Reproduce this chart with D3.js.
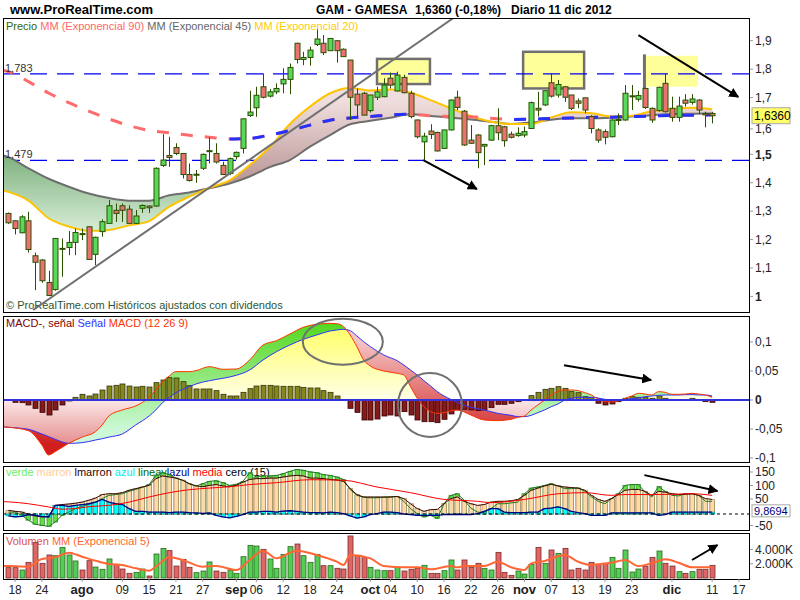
<!DOCTYPE html>
<html>
<head>
<meta charset="utf-8">
<script src="https://d3js.org/d3.v7.min.js"></script>
<style>
body { margin: 0; background: #fff; }
text { font-family: Arial, "Liberation Sans", sans-serif; }
</style>
</head>
<body>
<div id="chart"></div>
<script>
//Sesiones diarias GAM - GAMESA (17 jul a 11 dic 2012). El índice es la sesión
const opens = [1.292,1.266,1.224,1.266,1.143,1.128,1.049,1.024,1.167,1.172,
    1.190,1.221,1.245,1.148,1.228,1.257,1.303,1.319,1.307,1.257,
    1.310,1.318,1.318,1.461,1.496,1.524,1.503,1.429,1.428,1.451,
    1.511,1.503,1.461,1.433,1.492,1.521,1.637,1.664,1.738,1.705,
    1.720,1.748,1.764,1.891,1.834,1.841,1.887,1.891,1.865,1.900,
    1.870,1.832,1.712,1.715,1.654,1.701,1.703,1.768,1.723,1.771,
    1.715,1.621,1.544,1.582,1.577,1.521,1.586,1.701,1.652,1.550,
    1.568,1.529,1.550,1.601,1.597,1.571,1.566,1.568,1.591,1.662,
    1.674,1.752,1.709,1.738,1.709,1.688,1.699,1.633,1.586,1.580,
    1.562,1.619,1.621,1.704,1.694,1.732,1.662,1.654,1.750,1.662,
    1.630,1.691,1.683,1.691,1.644,1.644];
const highs = [1.295,1.268,1.286,1.298,1.154,1.131,1.090,1.204,1.204,1.230,
    1.239,1.239,1.247,1.210,1.271,1.339,1.327,1.327,1.321,1.304,
    1.324,1.320,1.454,1.571,1.562,1.539,1.503,1.468,1.445,1.503,
    1.560,1.539,1.474,1.489,1.510,1.625,1.724,1.738,1.785,1.730,
    1.750,1.803,1.820,1.893,1.861,1.879,1.940,1.920,1.908,1.902,
    1.873,1.832,1.732,1.720,1.709,1.738,1.768,1.788,1.791,1.780,
    1.724,1.623,1.576,1.606,1.580,1.586,1.693,1.724,1.656,1.603,
    1.572,1.537,1.604,1.662,1.600,1.580,1.595,1.598,1.686,1.720,
    1.724,1.785,1.762,1.740,1.709,1.697,1.700,1.638,1.592,1.588,
    1.623,1.644,1.744,1.744,1.724,1.735,1.665,1.738,1.785,1.703,
    1.703,1.712,1.712,1.695,1.650,1.650];
const lows = [1.255,1.218,1.222,1.154,1.022,1.048,1.001,1.020,1.069,1.145,
    1.145,1.198,1.130,1.110,1.210,1.257,1.262,1.262,1.257,1.255,
    1.294,1.294,1.316,1.456,1.456,1.497,1.415,1.404,1.400,1.445,
    1.468,1.468,1.427,1.427,1.482,1.503,1.632,1.632,1.697,1.700,
    1.712,1.715,1.712,1.820,1.814,1.812,1.881,1.850,1.865,1.823,
    1.844,1.621,1.633,1.638,1.647,1.691,1.701,1.732,1.721,1.715,
    1.627,1.556,1.480,1.554,1.510,1.520,1.584,1.656,1.530,1.537,
    1.451,1.462,1.548,1.550,1.527,1.556,1.562,1.560,1.591,1.633,
    1.670,1.700,1.700,1.685,1.656,1.662,1.645,1.574,1.541,1.535,
    1.560,1.603,1.618,1.656,1.686,1.660,1.611,1.650,1.647,1.615,
    1.615,1.668,1.675,1.642,1.595,1.609];
const closes = [1.259,1.239,1.280,1.165,1.120,1.055,1.003,1.204,1.169,1.190,
    1.225,1.219,1.130,1.208,1.263,1.319,1.292,1.303,1.257,1.283,
    1.320,1.312,1.451,1.480,1.489,1.503,1.429,1.408,1.430,1.500,
    1.513,1.473,1.429,1.485,1.507,1.625,1.649,1.708,1.701,1.720,
    1.732,1.764,1.806,1.834,1.841,1.867,1.906,1.858,1.908,1.865,
    1.844,1.701,1.674,1.638,1.709,1.720,1.744,1.744,1.779,1.717,
    1.633,1.562,1.564,1.570,1.512,1.586,1.691,1.665,1.533,1.539,
    1.506,1.535,1.601,1.576,1.548,1.560,1.574,1.580,1.682,1.656,
    1.724,1.705,1.746,1.701,1.662,1.680,1.656,1.591,1.550,1.560,
    1.621,1.623,1.715,1.706,1.707,1.665,1.621,1.736,1.650,1.630,
    1.670,1.680,1.695,1.656,1.639,1.636];

//Medias móviles leídas cada tres sesiones
const emaIdx = [-1,0,3,6,9,12,15,18,21,24,27,30,33,36,39,42,45,48,51,54,57,60,63,66,69,72,75,78,81,84,87,90,93,96,99,102,105];
const ema90 = [1.797,1.791,1.756,1.716,1.682,1.652,1.625,1.601,1.584,1.576,1.567,1.560,1.554,1.556,1.568,1.584,1.603,1.620,1.628,1.633,1.639,1.641,1.636,1.633,1.632,1.627,1.623,1.624,1.626,1.628,1.630,1.631,1.633,1.635,1.637,1.638,1.639];
const ema45 = [1.498,1.490,1.451,1.414,1.386,1.362,1.346,1.337,1.337,1.356,1.366,1.381,1.397,1.422,1.455,1.480,1.527,1.568,1.606,1.618,1.629,1.641,1.635,1.629,1.623,1.615,1.607,1.612,1.622,1.627,1.627,1.629,1.633,1.638,1.642,1.643,1.644];
const ema20 = [1.374,1.368,1.337,1.275,1.246,1.231,1.234,1.250,1.265,1.316,1.351,1.382,1.408,1.462,1.525,1.607,1.668,1.715,1.734,1.725,1.728,1.717,1.691,1.662,1.635,1.615,1.607,1.607,1.630,1.648,1.645,1.633,1.636,1.652,1.660,1.664,1.659];

//MACD (12 26 9)
const macdIdx = [-1,0,3,5,6,7,9,11,13,14,15,17,19,21,22,23,24,25,27,28,30,32,34,36,38,40,42,44,46,48,49,50,51,52,53,54,56,58,59,60,61,62,63,64,65,66,67,69,71,73,75,76,77,78,79,80,81,82,83,84,85,86,87,88,89,90,91,92,93,94,95,96,97,98,99,100,101,102,103,104,105];
const macdLine = [-0.046,-0.047,-0.053,-0.0776,-0.0948,-0.089,-0.0747,-0.064,-0.0546,-0.043,
    -0.0276,-0.0172,-0.0103,0.0046,0.0172,0.0316,0.0414,0.0489,0.0489,0.0506,
    0.0575,0.0529,0.0534,0.069,0.0948,0.1023,0.1138,0.1253,0.1305,0.1322,
    0.1316,0.1264,0.112,0.092,0.069,0.0586,0.05,0.046,0.043,0.023,
    0.003,-0.0115,-0.020,-0.023,-0.0218,-0.0184,-0.0172,-0.0259,-0.0345,-0.0356,
    -0.0333,-0.0299,-0.0276,-0.0172,-0.0086,0,0.0086,0.0144,0.0172,0.0172,
    0.0161,0.0126,0.0086,0.0011,-0.0029,-0.0034,-0.0017,0.0029,0.0069,0.0115,
    0.0103,0.0086,0.0144,0.0132,0.0098,0.0098,0.0103,0.0115,0.0103,0.0086,
    0.0046];
const signalLine = [-0.046,-0.047,-0.0506,-0.0586,-0.063,-0.0678,-0.0747,-0.0736,-0.069,-0.0667,
    -0.064,-0.0586,-0.043,-0.0276,-0.0172,-0.0046,0.0046,0.0126,0.023,0.0276,
    0.0333,0.0374,0.0425,0.0517,0.069,0.0833,0.0948,0.1046,0.112,0.119,
    0.1207,0.1218,0.1195,0.1103,0.1006,0.092,0.0776,0.0678,0.0603,0.0517,
    0.043,0.0333,0.0241,0.0144,0.0069,0.0011,-0.0046,-0.0126,-0.0172,-0.023,
    -0.0264,-0.0287,-0.0287,-0.0264,-0.0218,-0.0172,-0.0115,-0.0069,0,0.0029,
    0.0046,0.0046,0.0046,0.0034,0.0011,0,-0.0011,0,0.0023,0.0034,
    0.0057,0.0069,0.008,0.0086,0.0086,0.0086,0.0092,0.0092,0.0086,0.0086,
    0.0069];
const macdHist = [-0.001,-0.004,-0.0046,-0.0086,-0.0144,-0.0213,-0.0259,-0.0172,-0.0086,-0.0017,
    0.0046,0.0098,0.0069,0.0103,0.0172,0.0241,0.0253,0.0276,0.0241,0.0224,
    0.0236,0.0224,0.0299,0.0345,0.0385,0.0379,0.0316,0.0247,0.019,0.019,
    0.019,0.0161,0.0098,0.0069,0.0069,0.0132,0.0195,0.0241,0.0253,0.0253,
    0.0241,0.0236,0.0236,0.0236,0.0218,0.0207,0.0207,0.0161,0.0132,0.0069,
    0,-0.0144,-0.0213,-0.0345,-0.0345,-0.0328,-0.0276,-0.0259,-0.0276,-0.0201,
    -0.0259,-0.0345,-0.0374,-0.0374,-0.0391,-0.0333,-0.0241,-0.0172,-0.0161,-0.0172,
    -0.0184,-0.0172,-0.0132,-0.0075,-0.0075,-0.0057,-0.0029,0,0.0075,0.0132,
    0.0184,0.0201,0.023,0.0201,0.0144,0.0126,0.0057,0.004,-0.0057,-0.0086,
    -0.0069,-0.0029,0.0029,0.0057,0.0046,0.0046,0.0029,0.0069,0.0029,0.001,
    0.0006,0.001,0.0029,0.001,-0.0029,-0.004];

//Indicador (15): verde, marron, azul por sesión y media
const verde = [7,7,-5,-23,-38,-42,-46,-30,-5,7,20,28,36,44,57,69,72,75,84,91,
    99,109,143,153,146,133,125,112,104,112,121,123,116,106,110,121,
    153,137,141,141,143,149,158,165,162,156,153,146,143,137,128,91,69,62,60,60,
    62,63,65,47,20,1,-11,-5,-17,38,69,75,51,22,7,5,20,
    38,38,41,44,75,96,100,106,112,104,94,94,96,84,63,47,38,57,75,106,
    109,109,81,63,102,84,69,67,75,75,69,47,47];
const marron = [13.6,10,7.4,-1,-7,-11,-9,32,35,37,40,44,51,59,72,75,75,79,88,94,
    100,106,131,141,137,133,125,112,104,101,106,109,104,101,106,118,
    128,131,131,133,133,137,141,143,141,133,133,131,128,126,121,94,72,63,63,63,
    63,63,65,57,38,20,10,16,17,38,57,63,47,38,32,35,44,
    47,47,49,54,69,88,96,104,110,104,100,98,96,88,69,54,47,57,72,88,
    91,91,84,69,84,81,75,72,73,75,69,57,54];
const azul = [-7,-11,-9,-2,-5,-9,-11,32,32,28,32,35,38,44,54,44,38,35,20,10,
    10,7,7,7,5,7,7,5,4,2,4,-5,-11,-14,-9,-2,
    7,7,10,10,7,11,12,10,7,5,5,4,7,5,1,-7,-15,-11,-2,1,
    7,7,5,0,-2,-5,-5,-5,-5,-2,-2,-1,-2,-2,1,10,20,
    20,7,5,5,5,7,7,20,22,26,20,10,5,1,-5,-5,-5,4,4,4,
    4,4,4,4,-5,-2,7,7,7,7,7,7,7];
const mediaIdx = [-1,0,3,6,8,10,12,15,18,21,24,27,30,33,36,40,45,50,55,60,65,70,72,77,82,86,90,92,96,99,102,105];
const media = [46,45,38,26,18,20,27,32,44,63,79,90,96,101,109,116,127,125,100,79,54,47,42,54,75,79,69,72,72,73,75,69];

//Volumen (miles de títulos) y su media exponencial 5
const volumes = [1450,1450,1120,2200,4960,2060,3230,3130,4300,3230,
    2390,1120,2430,1540,1220,2670,1920,1260,655,795,
    1260,280,3370,4160,3840,1680,2620,1500,750,980,
    2250,980,795,1120,655,2990,4580,4490,4020,2670,
    1360,3320,4400,4770,3130,2200,3320,1730,1730,1360,
    1260,5900,3130,2850,1500,1120,1030,1030,1500,980,
    1220,1360,1780,655,655,1030,2530,1120,2530,1500,
    2060,1360,1120,3600,795,375,980,560,1920,4300,
    2060,3930,3460,4160,1120,1360,1120,2200,1920,2060,
    2900,1360,3930,840,1260,1680,2900,3790,2060,1680,
    890,655,890,1220,1220,1780];
const volEmaIdx = [-1,0,3,5,7,9,11,13,15,17,19,21,22,24,26,29,31,34,36,38,40,43,46,49,50,51,54,56,59,61,63,66,67,68,71,73,75,77,78,80,83,85,87,88,90,92,94,96,98,100,102,105];
const volEma = [1700,1680,1590,2670,2900,3560,2990,2430,1960,1820,1360,1030,1590,2900,2530,1590,1680,1120,2530,3840,2760,3840,3230,2290,1820,3230,2760,1680,1500,1500,1220,1680,1500,1680,1680,2290,1500,1120,2060,2390,3230,2290,1820,1920,2150,2530,1680,2060,2620,2150,1500,1500];

//Ejes
const dateTicks = [[1,'18'],[5,'24'],[11,'ago',true],[17,'09'],[21,'15'],[25,'21'],[29,'27'],[34,'sep',true],[37,'06'],[41,'12'],[45,'18'],[49,'24'],[54,'oct',true],[57,'04'],[61,'10'],[65,'16'],[69,'22'],[73,'26'],[77,'nov',true],[81,'07'],[85,'13'],[89,'19'],[93,'23'],[99,'dic',true],[105,'11'],[109,'17']];
const priceTicks = [1, 1.1, 1.2, 1.3, 1.4, 1.5, 1.6, 1.7, 1.8, 1.9];
const macdTicks = [0.1, 0.05, 0, -0.05, -0.1];
const oscTicks = [150, 100, 50, -50];
const volTicks = [4000, 2000];
const levels = [1.783, 1.479];

/// ELEMENTOS GENÉRICOS
const xL = 3, xR = 749;
const P = {top: 18, bottom: 312}, M = {top: 316, bottom: 462}, O = {top: 466, bottom: 530}, V = {top: 533, bottom: 579};

let svg = d3.select('#chart').append('svg').attr('width', 800).attr('height', 600);
let defs = svg.append('defs');

let x = d3.scaleLinear().domain([-0.8, 110.5]).range([xL, xR]);
let yP = d3.scaleLinear().domain([0.945, 1.98]).range([P.bottom, P.top]);
let yM = d3.scaleLinear().domain([-0.1069, 0.1448]).range([M.bottom, M.top]);
let yO = d3.scaleLinear().domain([-59.3, 177.8]).range([O.bottom, O.top]);
let yV = d3.scaleLinear().domain([-140, 6316]).range([V.bottom, V.top]);
let curve = d3.curveMonotoneX;
let coma = function(v) { return String(v).replace('.', ','); };

function clipPanel(id, p) {
    defs.append('clipPath').attr('id', id).append('rect')
        .attr('x', xL).attr('y', p.top).attr('width', xR - xL).attr('height', p.bottom - p.top);
}
clipPanel('cP', P); clipPanel('cM', M); clipPanel('cO', O); clipPanel('cV', V);

function gradiente(id, y1, y2, stops) {
    let g = defs.append('linearGradient').attr('id', id).attr('gradientUnits', 'userSpaceOnUse')
        .attr('x1', 0).attr('x2', 0).attr('y1', y1).attr('y2', y2);
    stops.forEach(function(s) { g.append('stop').attr('offset', s[0]).attr('stop-color', s[1]); });
}
gradiente('gVerde', 150, 240, [[0, '#78ad78'], [1, '#e2f4e2']]);
gradiente('gMarron', 250, 100, [[0, '#8e5a5a'], [1, '#f0dede']]);
gradiente('gNeutro', M.top, M.bottom, [[0, '#ffff55'], [0.57, '#ffffe6'], [0.58, '#fbe6e6'], [1, '#dc6a6a']]);
gradiente('gSube', 325, 430, [[0, '#55d822'], [1, '#cdf8d8']]);
gradiente('gBaja', 340, 445, [[0, '#f6c6c6'], [1, '#d01e1e']]);

defs.append('marker').attr('id', 'flecha').attr('viewBox', '0 0 10 10')
    .attr('refX', 9).attr('refY', 5).attr('markerWidth', 5).attr('markerHeight', 5).attr('orient', 'auto')
    .append('path').attr('d', 'M0,0L10,5L0,10Z').attr('fill', '#000');

function leyenda(yBase, partes) {
    let t = svg.append('text').attr('x', 6).attr('y', yBase).attr('font-size', 11);
    partes.forEach(function(p) { t.append('tspan').attr('fill', p[1]).text(p[0]); });
}

function flecha(g, a, b, yS) {
    g.append('line').attr('x1', x(a[0])).attr('y1', yS(a[1])).attr('x2', x(b[0])).attr('y2', yS(b[1]))
        .attr('stroke', '#000').attr('stroke-width', 2).attr('marker-end', 'url(#flecha)');
}

function etiquetaDerecha(y, txt, bold) {
    svg.append('line').attr('x1', xR).attr('x2', xR + 4).attr('y1', y).attr('y2', y).attr('stroke', '#999');
    svg.append('text').attr('x', xR + 6).attr('y', y).attr('dy', '0.35em').attr('font-size', 12)
        .attr('font-weight', bold ? 'bold' : 'normal').attr('fill', '#222').text(txt);
}

//Cabecera
svg.append('text').attr('x', 10).attr('y', 14).attr('font-size', 13).attr('font-weight', 'bold').text('www.ProRealTime.com');
svg.append('text').attr('x', 316).attr('y', 14).attr('font-size', 12).attr('font-weight', 'bold').text('GAM - GAMESA');
svg.append('text').attr('x', 415).attr('y', 14).attr('font-size', 12).attr('font-weight', 'bold').text('1,6360 (-0,18%)');
svg.append('text').attr('x', 511).attr('y', 14).attr('font-size', 12).attr('font-weight', 'bold').text('Diario  11 dic 2012');

let velas = opens.map(function(o, i) { return {i: i, o: o, h: highs[i], l: lows[i], c: closes[i]}; });
let emaPts = emaIdx.map(function(i, k) { return {i: i, e90: ema90[k], e45: ema45[k], e20: ema20[k]}; });

//////// PANEL PRECIO
leyenda(30, [['Precio ', '#336600'], ['MM (Exponencial 90) ', '#ff6666'], ['MM (Exponencial 45) ', '#666666'], ['MM (Exponencial 20)', '#ffcc00']]);
svg.append('text').attr('x', 6).attr('y', 309).attr('font-size', 11).attr('fill', '#2f552f')
    .text('© ProRealTime.com  Históricos ajustados con dividendos');

let gP = svg.append('g').attr('clip-path', 'url(#cP)');

//Cajas amarillas
function caja(i1, i2, v1, v2, borde) {
    gP.append('rect').attr('x', x(i1)).attr('y', yP(v1)).attr('width', x(i2) - x(i1)).attr('height', yP(v2) - yP(v1))
        .attr('fill', '#ffff99').attr('stroke', borde ? '#707070' : 'none').attr('stroke-width', 2.5);
}
caja(55, 62.9, 1.836, 1.7475, true);
caja(76.8, 85.9, 1.861, 1.732, true);
caja(95, 102.9, 1.847, 1.738, false);
gP.append('line').attr('x1', x(94.9)).attr('x2', x(94.9)).attr('y1', yP(1.852)).attr('y2', yP(1.733))
    .attr('stroke', '#707070').attr('stroke-width', 3);

//Niveles horizontales
levels.forEach(function(v) {
    gP.append('line').attr('x1', xL).attr('x2', xR).attr('y1', yP(v)).attr('y2', yP(v))
        .attr('stroke', '#0000ee').attr('stroke-width', 1.3).attr('stroke-dasharray', '17,10');
    svg.append('text').attr('x', 5).attr('y', yP(v) - 2).attr('font-size', 11).attr('fill', '#333').text(coma(v));
});

//Zona entre medias 20 y 45
defs.append('clipPath').attr('id', 'bajo20').append('path')
    .attr('d', d3.area().x(function(d) { return x(d.i); }).y0(P.top).y1(function(d) { return yP(d.e20); }).curve(curve)(emaPts));
defs.append('clipPath').attr('id', 'bajo45').append('path')
    .attr('d', d3.area().x(function(d) { return x(d.i); }).y0(P.top).y1(function(d) { return yP(d.e45); }).curve(curve)(emaPts));
gP.append('g').attr('clip-path', 'url(#bajo20)').append('path')
    .attr('d', d3.area().x(function(d) { return x(d.i); }).y0(function(d) { return yP(d.e45); }).y1(P.bottom).curve(curve)(emaPts))
    .attr('fill', 'url(#gVerde)');
gP.append('g').attr('clip-path', 'url(#bajo45)').append('path')
    .attr('d', d3.area().x(function(d) { return x(d.i); }).y0(function(d) { return yP(d.e20); }).y1(P.bottom).curve(curve)(emaPts))
    .attr('fill', 'url(#gMarron)');

gP.append('path').attr('d', d3.line().x(function(d) { return x(d.i); }).y(function(d) { return yP(d.e45); }).curve(curve)(emaPts))
    .attr('fill', 'none').attr('stroke', '#6e6e6e').attr('stroke-width', 2);
gP.append('path').attr('d', d3.line().x(function(d) { return x(d.i); }).y(function(d) { return yP(d.e20); }).curve(curve)(emaPts))
    .attr('fill', 'none').attr('stroke', '#ffc400').attr('stroke-width', 2);

//Media 90: roja cuando baja, azul cuando sube
let linea90 = d3.line().x(function(d) { return x(d.i); }).y(function(d) { return yP(d.e90); }).curve(curve)(emaPts);
let subida = defs.append('clipPath').attr('id', 'subida');
emaPts.forEach(function(d, k) {
    if (k > 0 && d.e90 > emaPts[k - 1].e90) {
        subida.append('rect').attr('x', x(emaPts[k - 1].i)).attr('y', P.top).attr('width', x(d.i) - x(emaPts[k - 1].i)).attr('height', P.bottom - P.top);
    }
});
gP.append('path').attr('d', linea90).attr('fill', 'none').attr('stroke', '#ff6a6a').attr('stroke-width', 3).attr('stroke-dasharray', '12,12');
gP.append('g').attr('clip-path', 'url(#subida)').append('path').attr('d', linea90)
    .attr('fill', 'none').attr('stroke', '#2233ff').attr('stroke-width', 3).attr('stroke-dasharray', '12,12');

//Velas
gP.selectAll('.mecha').data(velas).join('line')
    .attr('x1', function(d) { return Math.round(x(d.i)) + 0.5; })
    .attr('x2', function(d) { return Math.round(x(d.i)) + 0.5; })
    .attr('y1', function(d) { return yP(d.h); })
    .attr('y2', function(d) { return yP(d.l); })
    .attr('stroke', '#2b5000');
gP.selectAll('.cuerpo').data(velas).join('rect')
    .attr('x', function(d) { return Math.round(x(d.i)) - 2; })
    .attr('width', 5)
    .attr('y', function(d) { return yP(Math.max(d.o, d.c)); })
    .attr('height', function(d) { return Math.max(1, Math.abs(yP(d.o) - yP(d.c))); })
    .attr('fill', function(d) { return d.c >= d.o ? '#5ad85a' : '#ec7272'; })
    .attr('stroke', '#2b5000');

//Directriz y flechas
gP.append('line').attr('x1', x(3.7)).attr('y1', yP(0.952)).attr('x2', x(66.4)).attr('y2', yP(1.98))
    .attr('stroke', '#707070').attr('stroke-width', 2);
flecha(gP, [61.9, 1.480], [69.9, 1.378], yP);
flecha(gP, [94, 1.920], [108.9, 1.702], yP);

//Eje precio (el 1,6 queda casi tapado por el último cierre, como en el original)
priceTicks.forEach(function(v) {
    etiquetaDerecha(yP(v) + (v === 1.6 ? 3 : 0), coma(v), v === 1 || v === 1.5);
});
let yUlt = yP(closes[closes.length - 1]);
svg.append('rect').attr('x', 752).attr('y', yUlt - 8).attr('width', 38).attr('height', 16).attr('fill', '#ffff66').attr('stroke', '#aaa');
svg.append('text').attr('x', 754).attr('y', yUlt).attr('dy', '0.36em').attr('font-size', 12).text('1,6360');

//////// PANEL MACD
leyenda(327, [['MACD-, señal ', '#800000'], ['Señal ', '#3333ff'], ['MACD (12 26 9)', '#ff3300']]);
let gM = svg.append('g').attr('clip-path', 'url(#cM)');
let mPts = macdIdx.map(function(i, k) { return {i: i, m: macdLine[k], s: signalLine[k]}; });

gM.append('path').attr('d', d3.area().x(function(d) { return x(d.i); }).y0(yM(0)).y1(function(d) { return yM(d.m); }).curve(curve)(mPts)).attr('fill', 'url(#gNeutro)');
gM.append('path').attr('d', d3.area().x(function(d) { return x(d.i); }).y0(yM(0)).y1(function(d) { return yM(d.s); }).curve(curve)(mPts)).attr('fill', 'url(#gNeutro)');
defs.append('clipPath').attr('id', 'sobreSenal').append('path')
    .attr('d', d3.area().x(function(d) { return x(d.i); }).y0(M.top).y1(function(d) { return yM(d.s); }).curve(curve)(mPts));
defs.append('clipPath').attr('id', 'sobreMacd').append('path')
    .attr('d', d3.area().x(function(d) { return x(d.i); }).y0(M.top).y1(function(d) { return yM(d.m); }).curve(curve)(mPts));
gM.append('g').attr('clip-path', 'url(#sobreSenal)').append('path')
    .attr('d', d3.area().x(function(d) { return x(d.i); }).y0(function(d) { return yM(d.m); }).y1(M.bottom).curve(curve)(mPts))
    .attr('fill', 'url(#gSube)');
gM.append('g').attr('clip-path', 'url(#sobreMacd)').append('path')
    .attr('d', d3.area().x(function(d) { return x(d.i); }).y0(function(d) { return yM(d.s); }).y1(M.bottom).curve(curve)(mPts))
    .attr('fill', 'url(#gBaja)');

gM.selectAll('.hist').data(macdHist.map(function(v, i) { return {i: i, v: v}; }).filter(function(d) { return Math.abs(d.v) > 0.0008; }))
    .join('rect')
    .attr('x', function(d) { return Math.round(x(d.i)) - 2; })
    .attr('width', 5)
    .attr('y', function(d) { return Math.min(yM(d.v), yM(0)); })
    .attr('height', function(d) { return Math.abs(yM(d.v) - yM(0)); })
    .attr('fill', function(d) { return d.v > 0 ? '#86861e' : '#841a1a'; })
    .attr('stroke', function(d) { return d.v > 0 ? '#33330a' : '#3a0000'; })
    .attr('stroke-width', 0.8);

gM.append('path').attr('d', d3.line().x(function(d) { return x(d.i); }).y(function(d) { return yM(d.s); }).curve(curve)(mPts))
    .attr('fill', 'none').attr('stroke', '#3333ff').attr('stroke-width', 1);
gM.append('path').attr('d', d3.line().x(function(d) { return x(d.i); }).y(function(d) { return yM(d.m); }).curve(curve)(mPts))
    .attr('fill', 'none').attr('stroke', '#ff3300').attr('stroke-width', 1);
gM.append('line').attr('x1', xL).attr('x2', xR).attr('y1', yM(0)).attr('y2', yM(0)).attr('stroke', '#3333dd').attr('stroke-width', 2);

//Círculos y flecha
gM.append('ellipse').attr('cx', x(49.9)).attr('cy', yM(0.1005)).attr('rx', x(5.97) - x(0)).attr('ry', yM(0) - yM(0.0397))
    .attr('fill', 'none').attr('stroke', '#707070').attr('stroke-width', 2);
gM.append('ellipse').attr('cx', x(62.9)).attr('cy', yM(-0.0086)).attr('rx', x(4.78) - x(0)).attr('ry', yM(0) - yM(0.055))
    .attr('fill', 'none').attr('stroke', '#707070').attr('stroke-width', 2);
flecha(gM, [82.9, 0.060], [95.9, 0.0345], yM);

macdTicks.forEach(function(v) { etiquetaDerecha(yM(v), coma(v), v === 0); });

//////// PANEL OSCILADOR (15)
leyenda(476, [['verde ', '#66ee66'], ['marron ', '#ffcc99'], ['lmarron ', '#330000'], ['azul ', '#00eeee'], ['lineay', '#006600'], ['lazul ', '#000080'], ['media ', '#ff0000'], ['cero (15)', '#000']]);
let gO = svg.append('g').attr('clip-path', 'url(#cO)');
let oPts = marron.map(function(m, i) { return {i: i, m: m, g: verde[i], a: azul[i]}; });

function barrasO(campo, fill, stroke) {
    gO.selectAll('.b' + campo).data(oPts).join('rect')
        .attr('x', function(d) { return Math.round(x(d.i)) - 2; })
        .attr('width', 4.5)
        .attr('y', function(d) { return Math.min(yO(d[campo]), yO(0)); })
        .attr('height', function(d) { return Math.abs(yO(d[campo]) - yO(0)); })
        .attr('fill', fill).attr('stroke', stroke).attr('stroke-width', 0.7);
}
barrasO('g', '#66dd44', '#2e8a2e');
barrasO('m', '#ffd9a8', '#b08a66');
barrasO('a', '#00ffff', '#0099aa');

function lineaO(campo, color, w) {
    gO.append('path').attr('d', d3.line().x(function(d) { return x(d.i); }).y(function(d) { return yO(d[campo]); })(oPts))
        .attr('fill', 'none').attr('stroke', color).attr('stroke-width', w);
}
lineaO('g', '#1e7a1e', 1);
lineaO('m', '#3a0a00', 1);
lineaO('a', '#000080', 1.3);
gO.append('path').attr('d', d3.line().x(function(d) { return x(d[0]); }).y(function(d) { return yO(d[1]); }).curve(curve)(mediaIdx.map(function(i, k) { return [i, media[k]]; })))
    .attr('fill', 'none').attr('stroke', '#ff0000').attr('stroke-width', 1);
gO.append('line').attr('x1', xL).attr('x2', xR).attr('y1', yO(0)).attr('y2', yO(0)).attr('stroke', '#000').attr('stroke-dasharray', '3,3');
flecha(gO, [94.9, 144], [105.8, 85], yO);

//Etiquetas del oscilador, algo subidas para dejar sitio al último valor
oscTicks.forEach(function(v) { etiquetaDerecha(v < 0 ? 525.5 : yO(v) - 1.5, String(v), false); });
svg.append('rect').attr('x', 752).attr('y', yO(9.87) - 6.5).attr('width', 38).attr('height', 12).attr('fill', '#fff').attr('stroke', '#aaa');
svg.append('text').attr('x', 754).attr('y', yO(9.87) - 0.5).attr('dy', '0.36em').attr('font-size', 11).attr('fill', '#000080').text('9,8694');

//////// PANEL VOLUMEN
leyenda(545, [['Volumen ', '#e05050'], ['MM (Exponencial 5)', '#ff6633']]);
let gV = svg.append('g').attr('clip-path', 'url(#cV)');
gV.selectAll('.vol').data(volumes.map(function(v, i) { return {i: i, v: v, up: closes[i] >= opens[i]}; })).join('rect')
    .attr('x', function(d) { return Math.round(x(d.i)) - 2; })
    .attr('width', 5)
    .attr('y', function(d) { return yV(d.v); })
    .attr('height', function(d) { return yV(0) - yV(d.v); })
    .attr('fill', function(d) { return d.up ? '#55cc55' : '#e06666'; })
    .attr('stroke', function(d) { return d.up ? '#2b6a1e' : '#7a2a2a'; })
    .attr('stroke-width', 0.8);
gV.append('path').attr('d', d3.line().x(function(d) { return x(d[0]); }).y(function(d) { return yV(d[1]); }).curve(curve)(volEmaIdx.map(function(i, k) { return [i, volEma[k]]; })))
    .attr('fill', 'none').attr('stroke', '#ff6633').attr('stroke-width', 2);
flecha(gV, [102, 2526], [105.8, 4630], yV);
volTicks.forEach(function(v) { etiquetaDerecha(yV(v), d3.format(',')(v).replace(',', '.') + 'K', false); });

//Marcos
[P, M, O, V].forEach(function(p) {
    svg.append('rect').attr('x', xL + 0.5).attr('y', p.top + 0.5).attr('width', xR - xL).attr('height', p.bottom - p.top)
        .attr('fill', 'none').attr('stroke', '#000');
});

//Eje de fechas
dateTicks.forEach(function(t) {
    let xt = x(t[0]);
    svg.append('line').attr('x1', xt).attr('x2', xt).attr('y1', V.bottom).attr('y2', V.bottom + 3).attr('stroke', '#999');
    svg.append('text').attr('x', xt).attr('y', 594).attr('text-anchor', 'middle')
        .attr('font-size', t[2] ? 13 : 12).attr('font-weight', t[2] ? 'bold' : 'normal').attr('fill', '#222').text(t[1]);
});
</script>
</body>
</html>
